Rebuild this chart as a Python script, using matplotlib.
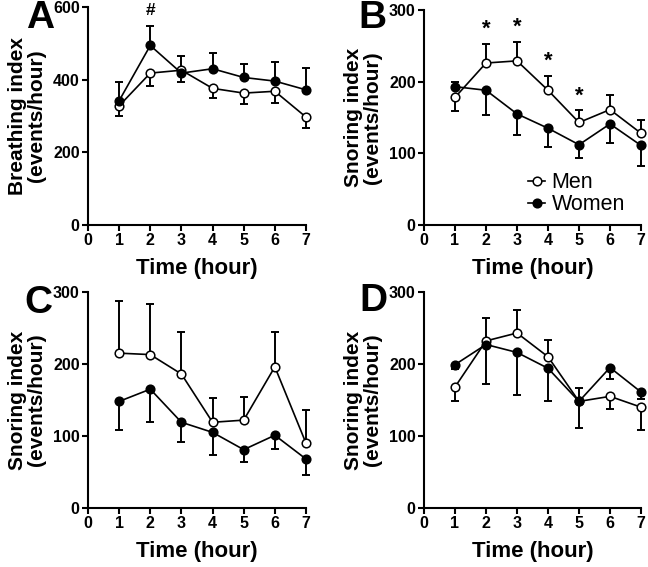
import matplotlib.pyplot as plt

plt.rcParams['font.family'] = ['Liberation Sans', 'DejaVu Sans']

hours = [1, 2, 3, 4, 5, 6, 7]
x_ticks = [0, 1, 2, 3, 4, 5, 6, 7]

# Panel A - breathing index
a_men = [328, 418, 426, 376, 363, 368, 297]
a_men_lo = [29, 35, 33, 27, 31, 33, 29]
a_men_hi = [0, 0, 0, 0, 0, 0, 0]
a_women = [342, 494, 418, 430, 406, 396, 372]
a_women_lo = [0, 0, 0, 0, 0, 0, 0]
a_women_hi = [52, 53, 47, 42, 37, 52, 59]

# Panel B - snoring index
b_men = [178, 226, 229, 188, 143, 161, 128]
b_men_lo = [19, 0, 0, 0, 0, 0, 0]
b_men_hi = [0, 27, 27, 20, 17, 20, 19]
b_women = [193, 188, 155, 135, 112, 141, 111]
b_women_lo = [0, 35, 30, 26, 19, 26, 28]
b_women_hi = [7, 0, 0, 0, 0, 0, 0]

# Panel C
c_men = [215, 213, 186, 119, 122, 196, 90]
c_men_lo = [0, 0, 0, 0, 0, 0, 0]
c_men_hi = [73, 70, 58, 34, 32, 49, 46]
c_women = [148, 165, 119, 105, 81, 101, 68]
c_women_lo = [40, 45, 28, 31, 17, 19, 22]
c_women_hi = [0, 0, 0, 0, 0, 0, 0]

# Panel D
d_men = [168, 232, 243, 210, 148, 155, 140]
d_men_lo = [20, 0, 0, 0, 0, 18, 32]
d_men_hi = [0, 32, 32, 23, 19, 0, 0]
d_women = [199, 227, 216, 194, 148, 195, 161]
d_women_lo = [6, 55, 59, 45, 37, 16, 10]
d_women_hi = [0, 0, 0, 0, 0, 0, 0]

panels = [
    ('A', 'Breathing index\n(events/hour)', [0, 200, 400, 600],
     a_men, a_men_lo, a_men_hi, a_women, a_women_lo, a_women_hi),
    ('B', 'Snoring index\n(events/hour)', [0, 100, 200, 300],
     b_men, b_men_lo, b_men_hi, b_women, b_women_lo, b_women_hi),
    ('C', 'Snoring index\n(events/hour)', [0, 100, 200, 300],
     c_men, c_men_lo, c_men_hi, c_women, c_women_lo, c_women_hi),
    ('D', 'Snoring index\n(events/hour)', [0, 100, 200, 300],
     d_men, d_men_lo, d_men_hi, d_women, d_women_lo, d_women_hi),
]

# axes rectangles in figure fraction
rects = [
    [0.1358, 0.6032, 0.3364, 0.3845],
    [0.6543, 0.6032, 0.3349, 0.3792],
    [0.1358, 0.1041, 0.3364, 0.3810],
    [0.6543, 0.1041, 0.3349, 0.3810],
]
letter_pos = [(0.062, 0.968), (0.575, 0.969), (0.059, 0.466), (0.577, 0.469)]

fig = plt.figure(figsize=(6.48, 5.67), dpi=100)

for i, p in enumerate(panels):
    letter, ylab, yticks, men, men_lo, men_hi, women, women_lo, women_hi = p
    ax = fig.add_axes(rects[i])

    ax.errorbar(hours, men, yerr=[men_lo, men_hi], fmt='none', ecolor='black',
                elinewidth=1.4, capsize=3.2, capthick=1.4, clip_on=False, zorder=2)
    ax.errorbar(hours, women, yerr=[women_lo, women_hi], fmt='none', ecolor='black',
                elinewidth=1.4, capsize=3.2, capthick=1.4, clip_on=False, zorder=2)
    ax.plot(hours, men, '-o', color='black', lw=1.2, ms=6.2, mfc='white',
            mec='black', mew=1.1, clip_on=False, zorder=3, label='Men')
    ax.plot(hours, women, '-o', color='black', lw=1.2, ms=6.2, mfc='black',
            mec='black', mew=1.1, clip_on=False, zorder=4, label='Women')

    ax.set_xlim(0, 7)
    ax.set_ylim(yticks[0], yticks[-1])
    ax.set_xticks(x_ticks)
    ax.set_yticks(yticks)
    for s in ['top', 'right']:
        ax.spines[s].set_visible(False)
    for s in ['left', 'bottom']:
        ax.spines[s].set_linewidth(1.5)
    ax.tick_params(direction='out', length=4, width=1.5, labelsize=11.5, pad=2)
    for lab in ax.get_xticklabels() + ax.get_yticklabels():
        lab.set_fontweight('bold')
    ax.set_xlabel('Time (hour)', fontsize=16, fontweight='bold', labelpad=7)
    ax.set_ylabel(ylab, fontsize=15, fontweight='bold', labelpad=5, linespacing=1.0)

    fig.text(letter_pos[i][0], letter_pos[i][1], letter, fontsize=28,
             fontweight='bold', ha='center', va='center')

    if letter == 'A':
        ax.text(2, 590, '#', ha='center', va='center', fontsize=12.5, fontweight='bold')
    if letter == 'B':
        for h in [2, 3, 4, 5]:
            k = hours.index(h)
            ax.text(h, men[k] + men_hi[k] + 20, '*', ha='center', va='center',
                    fontsize=16, fontweight='bold')
        ax.legend(loc='lower left', bbox_to_anchor=(0.41, -0.025), frameon=False,
                  fontsize=15.5, handlelength=0.8, handletextpad=0.3,
                  labelspacing=0.05, borderpad=0.2)

fig.savefig('out.png', dpi=100)
